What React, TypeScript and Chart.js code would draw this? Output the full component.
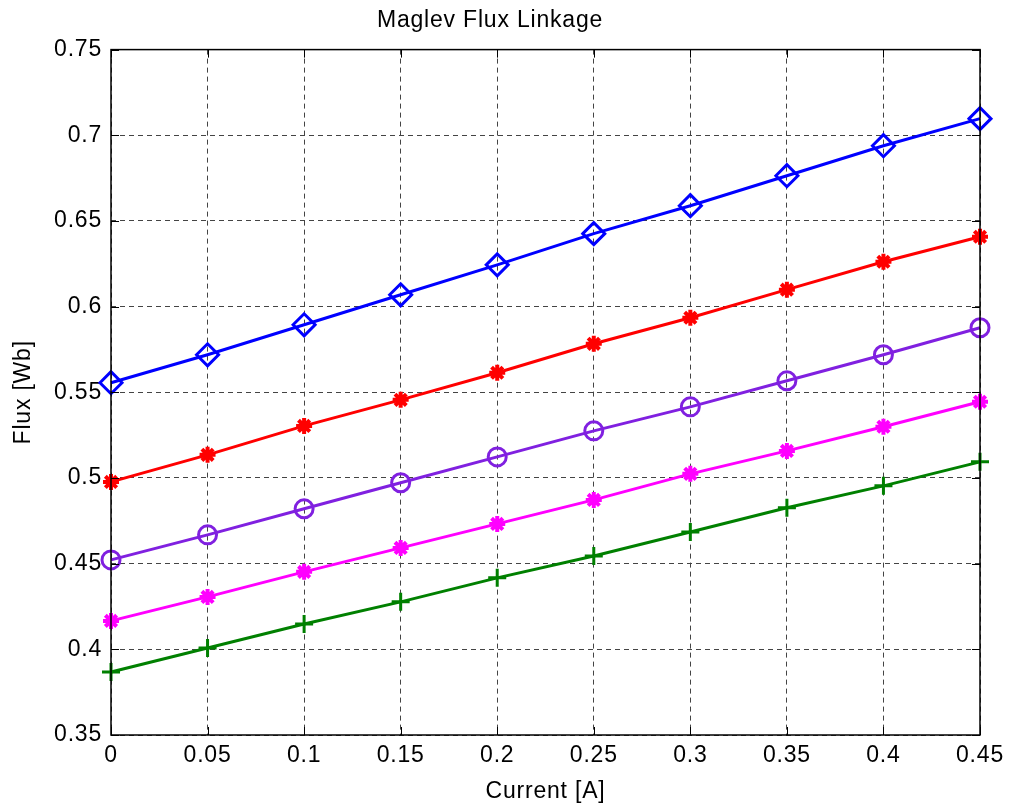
import React, { useEffect, useRef } from "react";
import { Chart, registerables } from "chart.js";

Chart.register(...registerables);

const currents = [0, 0.05, 0.1, 0.15, 0.2, 0.25, 0.3, 0.35, 0.4, 0.45];
const fluxBlue = [0.5556, 0.5719, 0.5894, 0.6069, 0.6244, 0.6426, 0.6589, 0.6764, 0.6939, 0.7097];
const fluxRed = [0.4977, 0.5135, 0.5304, 0.5456, 0.5614, 0.5783, 0.5935, 0.6099, 0.6262, 0.6408];
const fluxPurple = [0.4522, 0.4668, 0.482, 0.4972, 0.5123, 0.5275, 0.5415, 0.5567, 0.5719, 0.5877];
const fluxMagenta = [0.4166, 0.4306, 0.4452, 0.4592, 0.4732, 0.4872, 0.5024, 0.5158, 0.5299, 0.5445];
const fluxGreen = [0.3868, 0.4008, 0.4148, 0.4277, 0.4417, 0.4545, 0.4685, 0.4826, 0.4954, 0.5094];
const xTickLabels = ["0", "0.05", "0.1", "0.15", "0.2", "0.25", "0.3", "0.35", "0.4", "0.45"];
const yTickLabels = ["0.35", "0.4", "0.45", "0.5", "0.55", "0.6", "0.65", "0.7", "0.75"];

const FONT = "'Liberation Sans', Arial, Helvetica, sans-serif";

const spacing = {
  id: "spacing",
  beforeDraw(chart: any) {
    chart.ctx.letterSpacing = "0.8px";
  },
};

const frameTicks = {
  id: "frameTicks",
  afterDraw(chart: any) {
    const { ctx, chartArea: a, scales } = chart;
    ctx.save();
    ctx.strokeStyle = "#000";
    ctx.lineWidth = 1.5;
    ctx.setLineDash([]);
    ctx.strokeRect(a.left, a.top, a.right - a.left, a.bottom - a.top);
    ctx.lineWidth = 1;
    const L = 8;
    ctx.beginPath();
    for (const t of scales.x.ticks) {
      const px = Math.round(scales.x.getPixelForValue(t.value)) + 0.5;
      ctx.moveTo(px, a.bottom);
      ctx.lineTo(px, a.bottom - L);
      ctx.moveTo(px, a.top);
      ctx.lineTo(px, a.top + L);
    }
    for (const t of scales.y.ticks) {
      const py = Math.round(scales.y.getPixelForValue(t.value)) + 0.5;
      ctx.moveTo(a.left, py);
      ctx.lineTo(a.left + L, py);
      ctx.moveTo(a.right, py);
      ctx.lineTo(a.right - L, py);
    }
    ctx.stroke();
    ctx.restore();
  },
};

function series(values: number[], color: string, style: string, radius: number, bw: number) {
  return {
    data: values.map((v, i) => ({ x: currents[i], y: v })),
    borderColor: color,
    backgroundColor: "rgba(0,0,0,0)",
    borderWidth: 3,
    pointStyle: style,
    pointRadius: radius,
    pointBorderWidth: bw,
    pointBorderColor: color,
    pointBackgroundColor: style === "star" ? color : "rgba(0,0,0,0)",
    tension: 0,
    fill: false,
    clip: false,
  };
}

export default function App() {
  const ref = useRef<HTMLCanvasElement>(null);
  useEffect(() => {
    const chart = new Chart(ref.current as HTMLCanvasElement, {
      type: "line",
      data: {
        datasets: [
          series(fluxGreen, "#008000", "cross", 9, 3),
          series(fluxMagenta, "#ff00ff", "star", 8, 4),
          series(fluxPurple, "#8020e0", "circle", 9, 3),
          series(fluxRed, "#ff0000", "star", 8, 4),
          series(fluxBlue, "#0000ff", "rectRot", 11, 3),
        ] as any,
      },
      options: {
        responsive: false,
        animation: false,
        layout: { padding: { left: 0, right: 30, top: 0, bottom: 0 } },
        plugins: {
          legend: { display: false },
          tooltip: { enabled: false },
          title: {
            display: true,
            text: "Maglev Flux Linkage",
            color: "#000",
            font: { family: FONT, size: 23, weight: "normal" },
            padding: { top: 7, bottom: 15 },
          },
        },
        scales: {
          x: {
            type: "linear",
            min: 0,
            max: 0.45,
            afterBuildTicks(scale: any) {
              scale.ticks = xTickLabels.map((l) => ({ value: parseFloat(l), label: l }));
            },
            afterFit(scale: any) {
              scale.height = 72;
            },
            ticks: {
              color: "#000",
              font: { family: FONT, size: 23 },
              padding: 7,
              maxRotation: 0,
              autoSkip: false,
              callback: (v: any, i: number) => xTickLabels[i],
            },
            grid: { color: "#444", lineWidth: 1, drawTicks: false },
            border: { display: false, dash: [5, 4] },
            title: {
              display: true,
              text: "Current [A]",
              color: "#000",
              font: { family: FONT, size: 23 },
              padding: { top: 0, bottom: 2 },
            },
          },
          y: {
            type: "linear",
            min: 0.35,
            max: 0.75,
            afterBuildTicks(scale: any) {
              scale.ticks = yTickLabels.map((l) => ({ value: parseFloat(l), label: l }));
            },
            afterFit(scale: any) {
              scale.width = 111;
            },
            ticks: {
              color: "#000",
              font: { family: FONT, size: 23 },
              padding: 9,
              autoSkip: false,
              callback: (v: any, i: number) => yTickLabels[i],
            },
            grid: { color: "#444", lineWidth: 1, drawTicks: false },
            border: { display: false, dash: [5, 4] },
            title: {
              display: true,
              text: "Flux [Wb]",
              color: "#000",
              font: { family: FONT, size: 23 },
              padding: { top: 10, bottom: 0 },
            },
          },
        },
      } as any,
      plugins: [spacing, frameTicks],
    });
    return () => chart.destroy();
  }, []);
  return (
    <div style={{ position: "absolute", left: 0, top: 0, width: 1010, height: 807, background: "#fff" }}>
      <canvas ref={ref} width={1010} height={807} />
    </div>
  );
}
